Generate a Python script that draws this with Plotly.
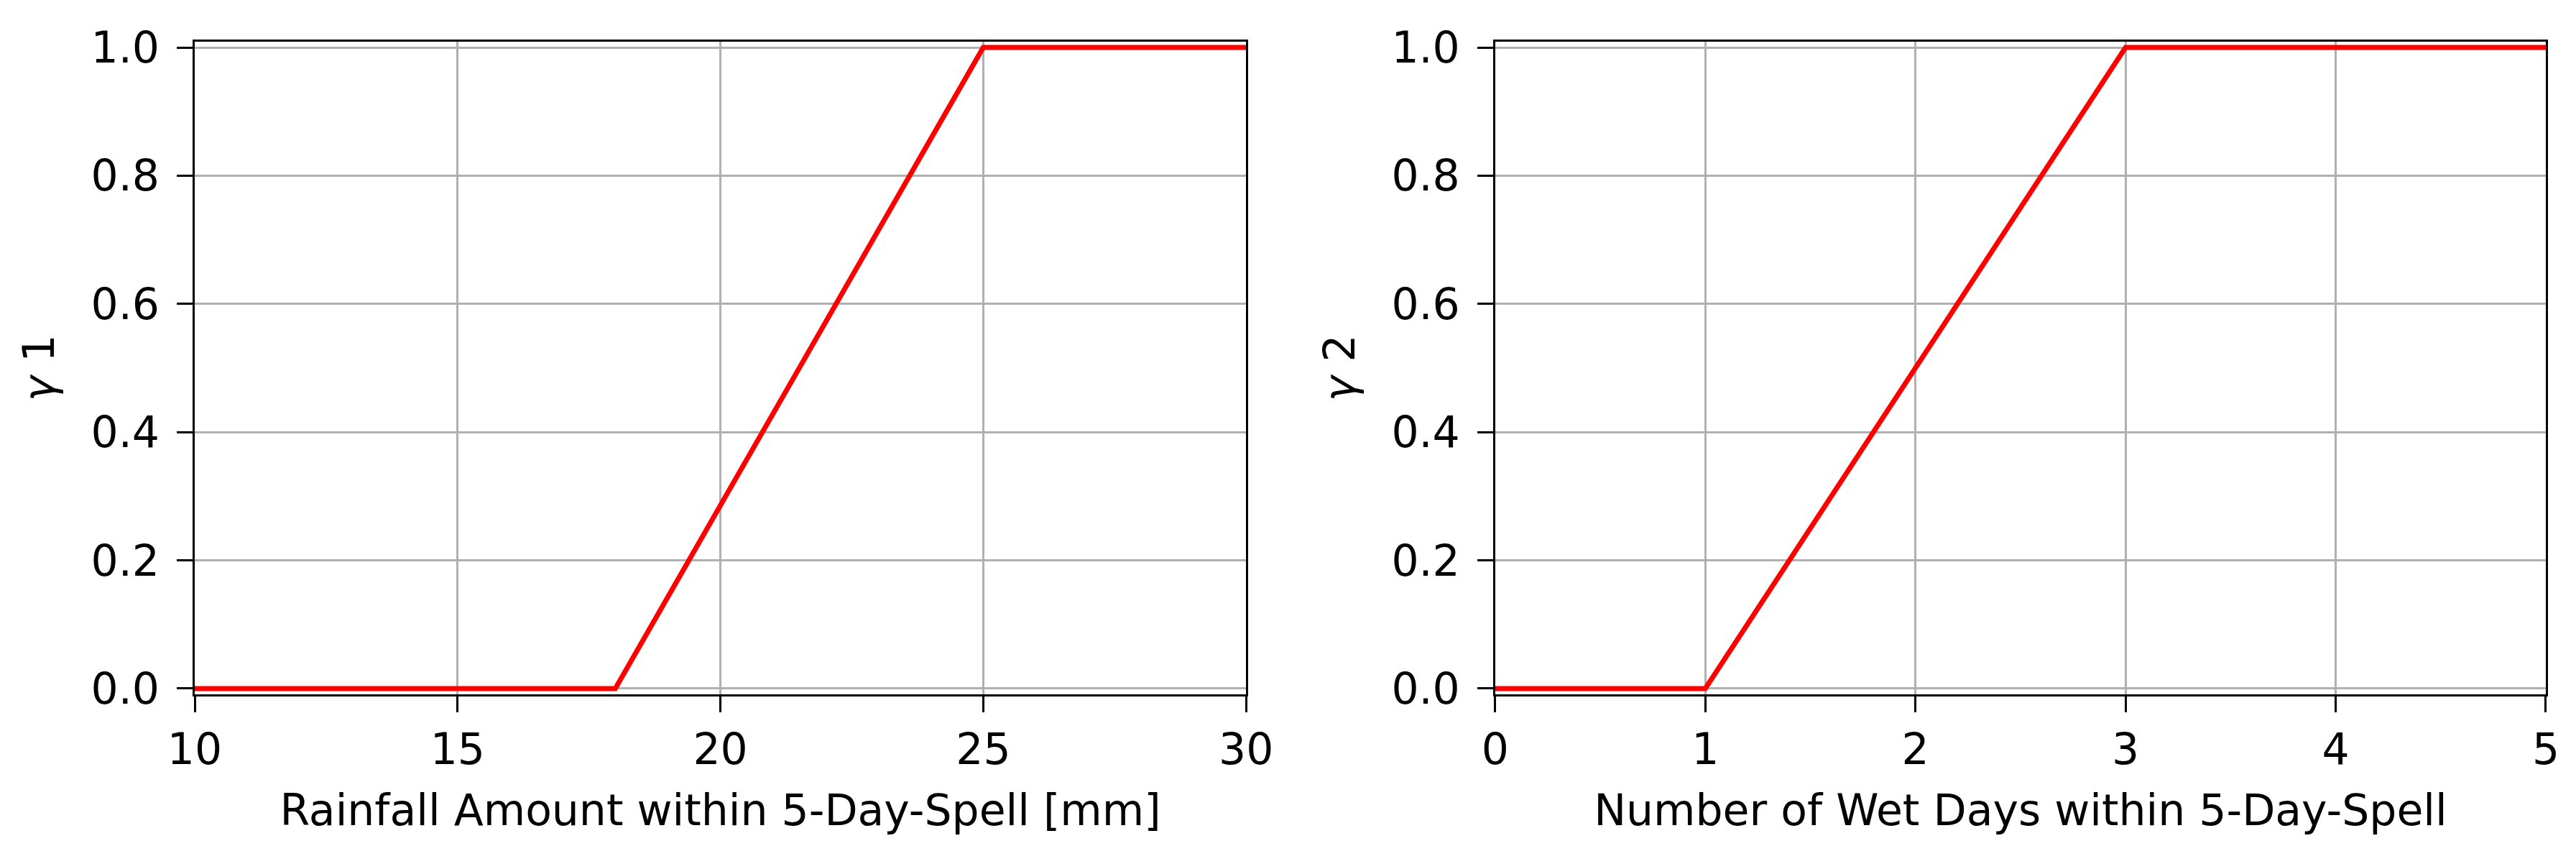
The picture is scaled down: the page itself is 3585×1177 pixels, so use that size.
import plotly.graph_objects as go

rain_x = [10, 18, 25, 30]
rain_y = [0, 0, 1, 1]
wet_x = [0, 1, 3, 5]
wet_y = [0, 0, 1, 1]

x1_label = "Rainfall Amount within 5-Day-Spell [mm]"
x2_label = "Number of Wet Days within 5-Day-Spell"
y1_label = "<i>γ</i> 1"
y2_label = "<i>γ</i> 2"

W, H = 3585, 1177
L, R, T, B = 263, 37, 50, 219
pw = W - L - R
fig = go.Figure()
fig.add_trace(go.Scatter(x=rain_x, y=rain_y, mode="lines", line=dict(color="#ff0000", width=7),
                         xaxis="x", yaxis="y", showlegend=False, cliponaxis=False))
fig.add_trace(go.Scatter(x=wet_x, y=wet_y, mode="lines", line=dict(color="#ff0000", width=7),
                         xaxis="x2", yaxis="y2", showlegend=False, cliponaxis=False))

font = dict(family="DejaVu Sans", size=60, color="black")
common = dict(showline=True, linecolor="black", linewidth=3, mirror=True,
              ticks="outside", ticklen=22, tickwidth=3, tickcolor="black",
              showgrid=True, gridcolor="#b0b0b0", gridwidth=3, zeroline=False,
              tickfont=font)
d1 = [0, (1732 - L) / pw]
d2 = [(2080 - L) / pw, 1]
fig.update_layout(
    width=W, height=H, margin=dict(l=L, r=R, t=T, b=B),
    paper_bgcolor="white", plot_bgcolor="white", font=font,
    xaxis=dict(domain=d1, range=[10, 30], dtick=5, anchor="y",
               title=dict(text=x1_label, font=font, standoff=30), **common),
    yaxis=dict(domain=[0, 1], range=[-0.009, 1.009], dtick=0.2, tickformat=".1f", anchor="x",
               ticklabelstandoff=12,
               title=dict(text=y1_label, font=font, standoff=32), **common),
    xaxis2=dict(domain=d2, range=[0, 5], dtick=1, anchor="y2",
                title=dict(text=x2_label, font=font, standoff=30), **common),
    yaxis2=dict(domain=[0, 1], range=[-0.009, 1.009], dtick=0.2, tickformat=".1f", anchor="x2",
                ticklabelstandoff=12,
                title=dict(text=y2_label, font=font, standoff=32), **common),
)
fig.write_html("out.html")
